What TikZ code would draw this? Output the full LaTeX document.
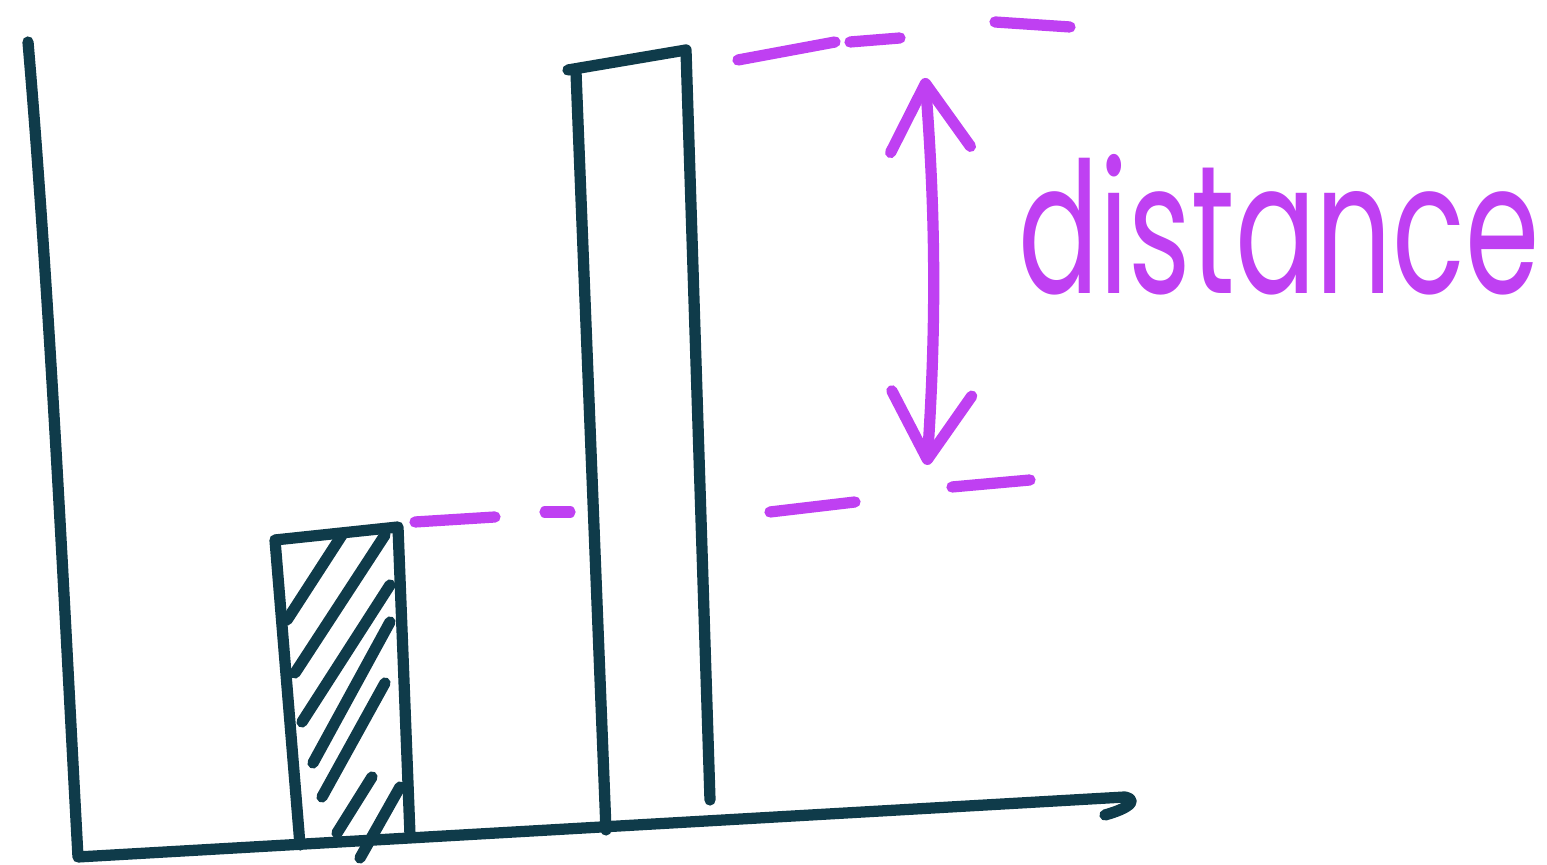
\documentclass[tikz,border=0pt]{standalone}
\usepackage{fontspec}
\newfontfamily\handfont{Poppins}
\usetikzlibrary{arrows.meta}
\definecolor{AxisInk}{HTML}{0F3B4A}
\definecolor{MarkInk}{HTML}{BF40F2}

\begin{document}
\begin{tikzpicture}[x=0.01cm, y=-0.01cm, line cap=round, line join=round,
  ink/.style={AxisInk, line width=3.2pt},
  levelink/.style={MarkInk, line width=3.2pt},
  barb/.tip={Straight Barb[length=0.66cm, width=0.8cm, round]}]
\useasboundingbox (0,0) rectangle (1547,865);

% axes
\draw[ink] (28,42) .. controls (50,300) and (64,600) .. (78,857)
  -- (1125,797) .. controls (1138,800) and (1130,808) .. (1105,815);

% short bar, hatched
\draw[ink] (300,845) -- (275,540) -- (398,527) -- (410,835);
\foreach \xa/\ya/\xb/\yb in {287/620/342/535, 295/673/385/535, 302/722/390/585,
  313/763/390/622, 322/797/385/683, 337/833/372/777, 360/858/400/787}
  \draw[ink] (\xa,\ya) -- (\xb,\yb);

% tall bar
\draw[ink] (606,830) -- (576,72) (568,70) -- (686,50) -- (710,800);

% levels
\foreach \xa/\ya/\xb/\yb in {415/522/495/517, 545/512/570/512, 770/512/855/502,
  952/487/1030/480, 738/60/835/42, 850/42/900/38, 995/22/1070/27}
  \draw[levelink] (\xa,\ya) -- (\xb,\yb);

\coordinate (top) at (925,78);
\coordinate (bot) at (927,465);
\draw[levelink, barb-barb] (top) .. controls (936,220) and (936,330) .. (bot);

\node[font=\handfont\fontsize{52}{54}\selectfont, text=MarkInk,
  anchor=base west, xscale=0.655, inner sep=0pt] (label) at (1018,294) {distance};
\end{tikzpicture}
\end{document}
